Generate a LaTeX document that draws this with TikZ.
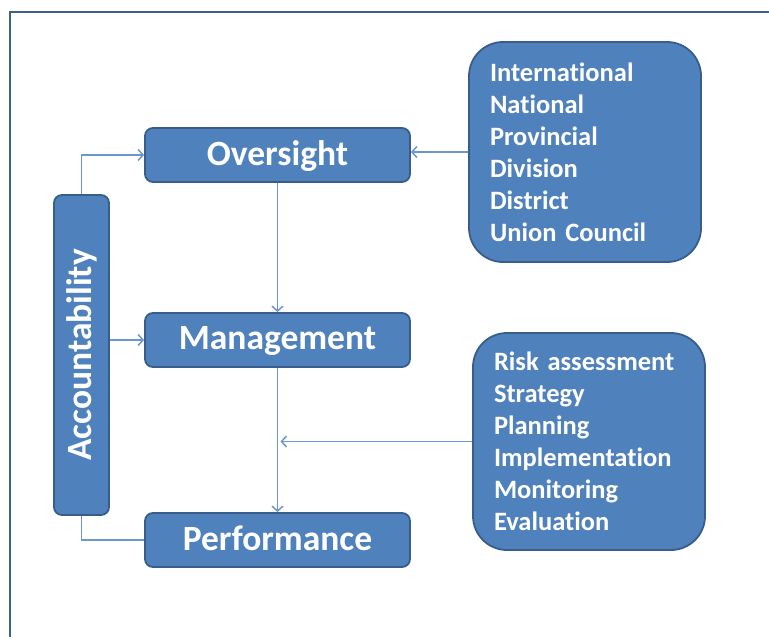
\documentclass[tikz,border=0pt]{standalone}
\usepackage{fontspec}
\setmainfont{Carlito}[RawFeature=-liga]
\usepackage{tikz}
\usetikzlibrary{arrows.meta}

\definecolor{boxfill}{RGB}{79,129,189}
\definecolor{boxline}{RGB}{56,93,138}
\definecolor{linkline}{RGB}{108,150,206}
\definecolor{framecol}{RGB}{59,95,143}

\begin{document}
\begin{tikzpicture}
		[x=1pt,y=-1pt,
		level/.style= {rounded corners=8pt,line width=1.8pt,draw=boxline,fill=boxfill,text=white,font=\fontsize{35.5}{42}\selectfont\bfseries,minimum width=265pt,minimum height=54pt,inner sep=0pt,text depth=4pt},
		side/.style= {rounded corners=8pt,line width=1.8pt,draw=boxline,fill=boxfill,text=white,font=\fontsize{35.5}{42}\selectfont\bfseries,minimum width=55pt,minimum height=320pt,inner sep=0pt},
		listbox/.style= {rounded corners=34pt,line width=1.8pt,draw=boxline,fill=boxfill,text=white,font=\fontsize{26.5}{32}\selectfont\bfseries,align=left,inner xsep=21pt},
		link/.style={line width=1.5pt,draw=linkline},
		tip/.style={-{Straight Barb[length=5pt,width=11pt]}}]

		\useasboundingbox (0,0) rectangle (769,637);
		\draw[line width=2.5pt,draw=framecol] (10,640) -- (10,12) -- (772,12);

		\node[level] (oversight) at (277.5,155) {Oversight};
		\node[level] (management) at (277.5,340) {Management};
		\node[level] (performance) at (277.5,540) {Performance};

		\node[side] (account) at (81.5,355) {\rotatebox{90}{Accountability}};

		\node[listbox,text width=190pt,minimum height=220pt] (levels) at (585,152)
			{International\\National\\Provincial\\Division\\District\\Union Council};
		\node[listbox,text width=190pt,minimum height=217pt] (cycle) at (589,441.5)
			{Risk assessment\\Strategy\\Planning\\Implementation\\Monitoring\\Evaluation};

		\coordinate (join) at (management.south |- cycle.west);

		\draw[link,tip] (account.north) |- (oversight.west);
		\draw[link,tip] (account.east |- management.west) -- (management.west);
		\draw[link] (account.south) |- (performance.west);
		\draw[link,tip] (oversight.south) -- (management.north);
		\draw[link,tip] (management.south) -- (performance.north);
		\draw[link,tip] (levels.west) -- (levels.west -| oversight.east);
		\draw[link,tip] (cycle.west) -- ([xshift=3pt]join);

	\end{tikzpicture}
\end{document}
